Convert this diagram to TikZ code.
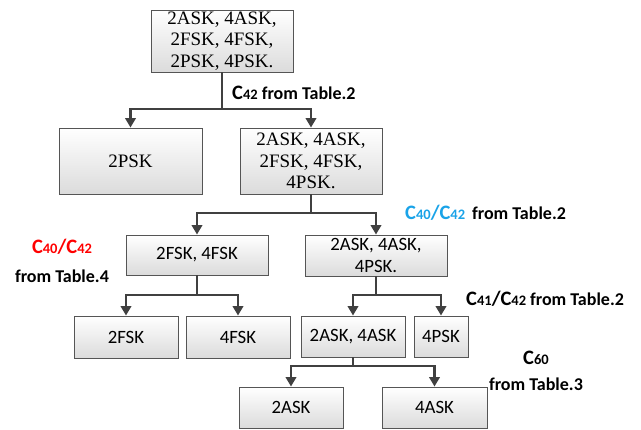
\documentclass[tikz,border=0pt]{standalone}
\usepackage{fontspec}
\setmainfont{Carlito}
\newfontfamily\timesfont{Liberation Serif}
\usetikzlibrary{arrows.meta}
\definecolor{boxline}{HTML}{555555}
\definecolor{linkline}{HTML}{404040}
\definecolor{cueblue}{HTML}{1AA3E8}
\definecolor{cuered}{HTML}{FF0000}
% cumulant symbol: large C followed by smaller index digits on the same baseline
\newcommand\Cm[1]{{\fontsize{20.5}{20}\selectfont C}{\fontsize{14.5}{14}\selectfont #1}}
\newcommand\Sl{{\fontsize{20.5}{20}\selectfont /}}
\begin{document}
\begin{tikzpicture}[x=1pt,y=-1pt,
  box/.style={draw=boxline, line width=0.9pt, top color=white, bottom color=black!14,
    inner sep=0pt, align=center, font=\fontsize{18.8}{22}\selectfont},
  serifbox/.style={box, font=\timesfont\fontsize{19}{21.5}\selectfont},
  link/.style={draw=linkline, line width=2.2pt},
  arr/.style={link, -{Triangle[length=9.5pt,width=10.5pt]}},
  cue/.style={font=\bfseries\fontsize{18}{18}\selectfont, inner sep=0pt}]
\useasboundingbox (0,0) rectangle (641,430);

% level 1
\node[serifbox, minimum width=142pt, minimum height=62pt] (all) at (222,41)
  {2ASK, 4ASK,\\2FSK, 4FSK,\\2PSK, 4PSK.};
% level 2
\node[serifbox, minimum width=143pt, minimum height=66pt] (psk2) at (130.5,161) {2PSK};
\node[serifbox, minimum width=142pt, minimum height=66pt] (rest5) at (311,161)
  {2ASK, 4ASK,\\2FSK, 4FSK,\\4PSK.};
% level 3
\node[box, minimum width=142pt, minimum height=40pt] (fsk) at (197,255) {2FSK, 4FSK};
\node[box, minimum width=142pt, minimum height=41pt] (askpsk) at (376,255.5) {2ASK, 4ASK,\\4PSK.};
% level 4
\node[box, minimum width=104pt, minimum height=42pt] (fsk2) at (126,337) {2FSK};
\node[box, minimum width=104pt, minimum height=42pt] (fsk4) at (238,337) {4FSK};
\node[box, minimum width=104pt, minimum height=41pt] (ask) at (353,336.5) {2ASK, 4ASK};
\node[box, minimum width=54pt, minimum height=41pt] (psk4) at (441,336.5) {4PSK};
% level 5
\node[box, minimum width=104pt, minimum height=41pt] (ask2) at (291,407.5) {2ASK};
\node[box, minimum width=105pt, minimum height=41pt] (ask4) at (434.5,407.5) {4ASK};

% branch points
\coordinate (j1) at (222,109);
\coordinate (j2) at (311,213);
\coordinate (j3) at (197,295);
\coordinate (j4) at (376,295);
\coordinate (j5) at (353,366);

\draw[link] (all.south) -- (j1);
\draw[arr] (j1) -| (psk2.north);
\draw[arr] (j1) -| (rest5.north);
\draw[link] (rest5.south) -- (j2);
\draw[arr] (j2) -| (fsk.north);
\draw[arr] (j2) -| (askpsk.north);
\draw[link] (fsk.south) -- (j3);
\draw[arr] (j3) -| (fsk2.north);
\draw[arr] (j3) -| (fsk4.north);
\draw[link] (askpsk.south) -- (j4);
\draw[arr] (j4) -| (ask.north);
\draw[arr] (j4) -| (psk4.north);
\draw[link] (ask.south) -- (j5);
\draw[arr] (j5) -| (ask2.north);
\draw[arr] (j5) -| (ask4.north);

% decision labels
\node[cue, anchor=west] (c1) at (232,93) {\Cm{42} from Table.2};
\node[cue, anchor=west] (c2) at (405,213) {\textcolor{cueblue}{\Cm{40}\Sl\Cm{42}}\, from Table.2};
\node[cue, text=cuered] (c3a) at (62,247) {\Cm{40}\Sl\Cm{42}};
\node[cue] (c3b) at (62,276) {from Table.4};
\node[cue, anchor=west] (c4) at (466,299) {\Cm{41}\Sl\Cm{42} from Table.2};
\node[cue] (c5a) at (536,358) {\Cm{60}};
\node[cue] (c5b) at (536,384) {from Table.3};
\end{tikzpicture}
\end{document}
